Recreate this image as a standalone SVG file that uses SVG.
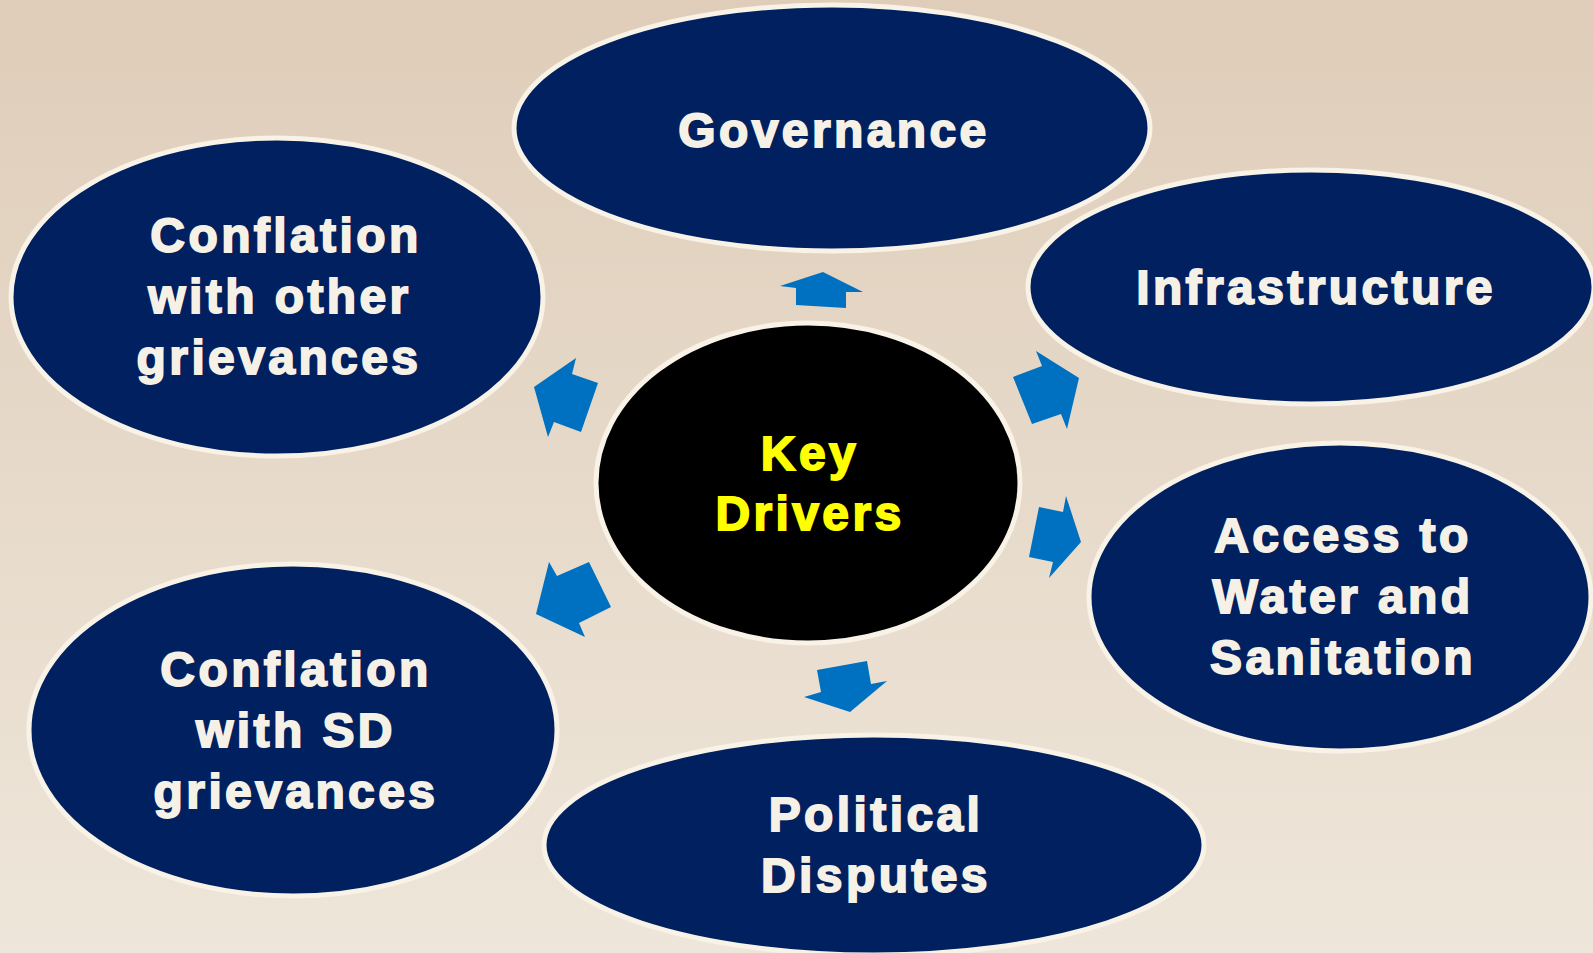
<svg xmlns="http://www.w3.org/2000/svg" width="1593" height="953" viewBox="0 0 1593 953">
  <defs>
    <linearGradient id="bg" x1="0" y1="0" x2="0" y2="1">
      <stop offset="0" stop-color="#dfcdb9"/>
      <stop offset="1" stop-color="#eee6da"/>
    </linearGradient>
  </defs>
  <style>
    .node { fill: #00205f; stroke: #f8f2e7; stroke-width: 5; }
    .center { fill: #000000; stroke: #f8f2e7; stroke-width: 5; }
    .lbl { font-family: "Liberation Sans", Arial, sans-serif; font-weight: bold; font-size: 48px; fill: #f6f1e7; stroke: #f6f1e7; stroke-width: 1.8; letter-spacing: 3.4px; text-anchor: middle; }
    .key { fill: #ffff00; stroke: #ffff00; }
    .arrow { fill: #0070c0; }
  </style>
  <rect x="0" y="0" width="1593" height="953" fill="url(#bg)"/>

  <g id="connectors">
    <polygon class="arrow" points="823,272 863,292 846,292 846,308 796,305 796,288 780,286"/>
    <polygon class="arrow" points="1036,351 1079,378 1067,429 1061,414 1032,424 1013,377 1042,366"/>
    <polygon class="arrow" points="1066,496 1081,542 1049,578 1053,562 1029,557 1039,507 1063,512"/>
    <polygon class="arrow" points="817,670 867,661 871,684 887,681 850,712 804,697 821,692"/>
    <polygon class="arrow" points="549,562 557,576 589,562 611,607 579,623 585,637 536,614"/>
    <polygon class="arrow" points="576,358 572,374 598,383 581,432 554,422 548,437 534,387"/>
  </g>

  <g id="governance">
    <ellipse class="node" cx="832" cy="128" rx="318" ry="123"/>
    <text class="lbl" x="834" y="147">Governance</text>
  </g>

  <g id="conflation-other">
    <ellipse class="node" cx="277" cy="297" rx="266" ry="159"/>
    <text class="lbl" x="286" y="252">Conflation</text>
    <text class="lbl" x="280" y="313">with other</text>
    <text class="lbl" x="279" y="374">grievances</text>
  </g>

  <g id="infrastructure">
    <ellipse class="node" cx="1311" cy="287" rx="283" ry="117"/>
    <text class="lbl" x="1316" y="304">Infrastructure</text>
  </g>

  <g id="access-water">
    <ellipse class="node" cx="1340" cy="597" rx="251" ry="154"/>
    <text class="lbl" x="1343" y="552">Access to</text>
    <text class="lbl" x="1343" y="613">Water and</text>
    <text class="lbl" x="1343" y="674">Sanitation</text>
  </g>

  <g id="conflation-sd">
    <ellipse class="node" cx="293" cy="730" rx="264" ry="166"/>
    <text class="lbl" x="296" y="686">Conflation</text>
    <text class="lbl" x="296" y="747">with SD</text>
    <text class="lbl" x="296" y="808">grievances</text>
  </g>

  <g id="political-disputes">
    <ellipse class="node" cx="874" cy="845" rx="330" ry="110"/>
    <text class="lbl" x="876" y="831">Political</text>
    <text class="lbl" x="876" y="892">Disputes</text>
  </g>

  <g id="key-drivers">
    <ellipse class="center" cx="808" cy="483" rx="212" ry="160"/>
    <text class="lbl key" x="810" y="470">Key</text>
    <text class="lbl key" x="810" y="530">Drivers</text>
  </g>
</svg>
